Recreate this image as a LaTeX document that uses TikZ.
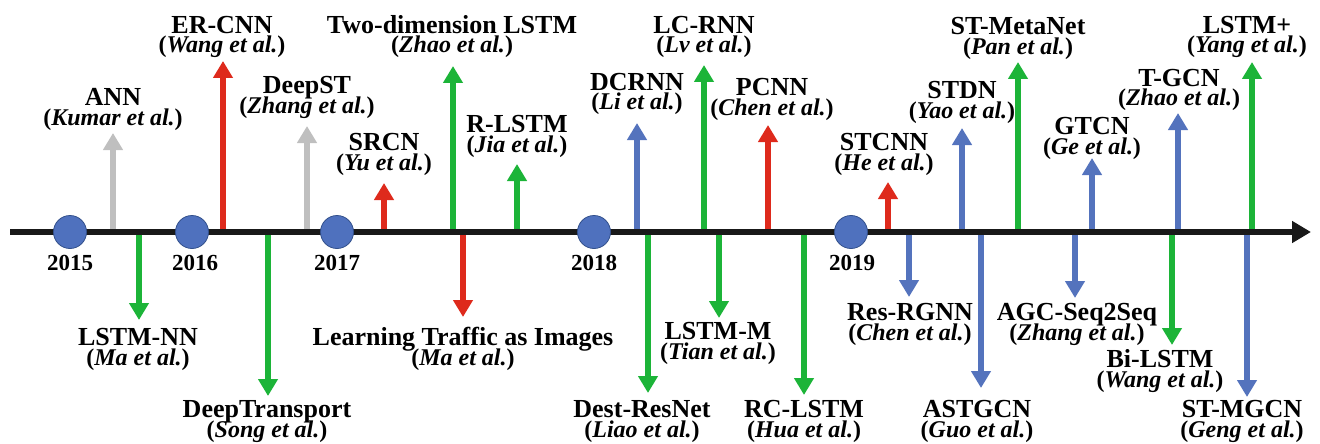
\documentclass[tikz,border=0pt]{standalone}
\usepackage{fontspec}
\setmainfont{Liberation Serif}
\usetikzlibrary{arrows.meta}
\definecolor{cgreen}{RGB}{28,180,56}
\definecolor{cred}{RGB}{222,42,28}
\definecolor{cblue}{RGB}{84,115,189}
\definecolor{cgray}{RGB}{191,191,191}
\definecolor{cdot}{RGB}{79,113,190}
\definecolor{cdotline}{RGB}{50,80,140}
\newcommand{\citefont}{\fontsize{24}{20}\selectfont}
\begin{document}
\begin{tikzpicture}[x=1pt,y=-1pt]
        \tikzstyle{stem}=[line width=6pt,-{Triangle[width=19pt,length=17pt]}]
        \tikzstyle{axis}=[line width=6pt,black!90,-{Triangle[width=21pt,length=19pt]}]
        \tikzstyle{yeardot}=[circle,draw=cdotline,fill=cdot,line width=0.8pt,minimum size=33pt,inner sep=0pt]
        \tikzstyle{yearlab}=[anchor=base,inner sep=0pt,font=\fontsize{23}{23}\selectfont\bfseries]
        \tikzstyle{mlabel}=[anchor=base,inner sep=0pt,align=center,
          font={\lineskiplimit=-100pt\fontsize{26}{20}\selectfont\bfseries}]
        \useasboundingbox (0,0) rectangle (1320,444);
        % x of arrow / x of label / tip / baseline of authors / colour / model / authors
        \foreach \x/\lx/\t/\b/\col/\n/\a [count=\i] in {
          113/113/133/125/cgray/ANN/Kumar,
          223/222/61/53/cred/ER-CNN/Wang,
          307/307/126/113/cgray/DeepST/Zhang,
          384/384/183/170/cred/SRCN/Yu,
          453/452/66/53/cgreen/Two-dimension LSTM/Zhao,
          517/517/164/152/cgreen/R-LSTM/Jia,
          637/637/123/110/cblue/DCRNN/Li,
          704/704/65/53/cgreen/LC-RNN/Lv,
          768/772/125/115/cred/PCNN/Chen,
          888/884/182/170/cred/STCNN/He,
          962/962/128/118/cblue/STDN/Yao,
          1018/1018/62/55/cgreen/ST-MetaNet/Pan,
          1092/1092/158/154/cblue/GTCN/Ge,
          1178/1179/113/106/cblue/T-GCN/Zhao,
          1252/1247/62/53/cgreen/LSTM+/Yang,
          139/138/320/365/cgreen/LSTM-NN/Ma,
          268/267/396/437/cgreen/DeepTransport/Song,
          463/463/317/365/cred/Learning Traffic as Images/Ma,
          648/642/393/437/cgreen/Dest-ResNet/Liao,
          719/718/318/359/cgreen/LSTM-M/Tian,
          804/804/395/437/cgreen/RC-LSTM/Hua,
          909/910/297/340/cblue/Res-RGNN/Chen,
          981/977/388/437/cblue/ASTGCN/Guo,
          1075/1077/298/340/cblue/AGC-Seq2Seq/Zhang,
          1172/1160/345/387/cgreen/Bi-LSTM/Wang,
          1247/1242/397/437/cblue/ST-MGCN/Geng}
        {
          \coordinate (s\i) at (\x,232);
          \coordinate (t\i) at (\x,\t);
          \draw[stem,color=\col] (s\i) -- (t\i);
          \node[mlabel] (m\i) at (\lx,\b) {\n\\{\citefont(\textit{\a\ et al.})}};
        }
        \coordinate (start) at (10,232);
        \coordinate (end) at (1311,232);
        \draw[axis] (start) -- (end);
        \foreach \x/\lx/\yr in {70/70/2015,192/195/2016,337/337/2017,594/594/2018,851/852/2019}
        {
          \node[yeardot] (d\yr) at (\x,232) {};
          \node[yearlab] (y\yr) at (\lx,270) {\yr};
        }
      \end{tikzpicture}
\end{document}
